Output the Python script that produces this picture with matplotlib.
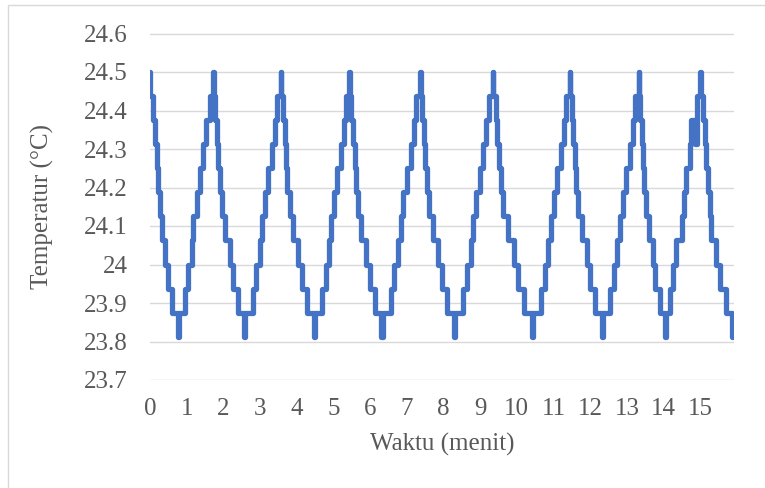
import matplotlib
matplotlib.use('Agg')
import matplotlib.pyplot as plt
from matplotlib.patches import Rectangle

# waktu (menit) tiap perubahan nilai
menit = [
    0.00, 0.01, 0.09, 0.14, 0.18, 0.23, 0.27, 0.32, 0.41, 0.50, 0.59, 0.77, 0.79,
    0.95, 1.04, 1.14, 1.18, 1.27, 1.36, 1.45, 1.54, 1.63, 1.72, 1.74,
    1.785, 1.825, 1.865, 1.895, 1.955, 2.045, 2.175, 2.265, 2.40, 2.57, 2.60,
    2.81, 2.90, 3.00, 3.06, 3.13, 3.23, 3.33, 3.40, 3.47, 3.56, 3.58,
    3.62, 3.67, 3.71, 3.74, 3.81, 3.91, 4.04, 4.14, 4.29, 4.47, 4.50,
    4.70, 4.79, 4.88, 4.94, 5.02, 5.11, 5.20, 5.28, 5.34, 5.43, 5.45,
    5.49, 5.54, 5.58, 5.61, 5.67, 5.76, 5.90, 5.99, 6.13, 6.31, 6.34,
    6.56, 6.66, 6.76, 6.83, 6.91, 7.01, 7.11, 7.19, 7.26, 7.36, 7.38,
    7.42, 7.47, 7.51, 7.54, 7.61, 7.71, 7.85, 7.95, 8.10, 8.28, 8.31,
    8.53, 8.64, 8.74, 8.80, 8.88, 8.99, 9.09, 9.17, 9.24, 9.34, 9.36,
    9.42, 9.47, 9.52, 9.56, 9.63, 9.75, 9.91, 10.03, 10.20, 10.42, 10.45,
    10.67, 10.76, 10.86, 10.92, 11.00, 11.10, 11.20, 11.28, 11.34, 11.44, 11.46,
    11.50, 11.54, 11.58, 11.61, 11.68, 11.77, 11.90, 12.00, 12.14, 12.31, 12.34,
    12.55, 12.65, 12.74, 12.81, 12.89, 12.98, 13.08, 13.16, 13.22, 13.32, 13.34,
    13.37, 13.41, 13.44, 13.46, 13.51, 13.59, 13.70, 13.77, 13.89, 14.03, 14.06,
    14.17, 14.26, 14.35, 14.49, 14.55, 14.62, 14.71, 14.76, 14.86, 14.92, 14.99, 15.01,
    15.08, 15.13, 15.17, 15.21, 15.26, 15.30, 15.44, 15.53, 15.71, 15.87, 15.89,
]

suhu = [
    24.5, 24.4375, 24.375, 24.3125, 24.25, 24.1875, 24.125, 24.0625, 24.0, 23.9375, 23.875, 23.8125, 23.875,
    23.9375, 24.0, 24.0625, 24.125, 24.1875, 24.25, 24.3125, 24.375, 24.4375, 24.5, 24.4375,
    24.375, 24.3125, 24.25, 24.1875, 24.125, 24.0625, 24.0, 23.9375, 23.875, 23.8125, 23.875,
    23.9375, 24.0, 24.0625, 24.125, 24.1875, 24.25, 24.3125, 24.375, 24.4375, 24.5, 24.4375,
    24.375, 24.3125, 24.25, 24.1875, 24.125, 24.0625, 24.0, 23.9375, 23.875, 23.8125, 23.875,
    23.9375, 24.0, 24.0625, 24.125, 24.1875, 24.25, 24.3125, 24.375, 24.4375, 24.5, 24.4375,
    24.375, 24.3125, 24.25, 24.1875, 24.125, 24.0625, 24.0, 23.9375, 23.875, 23.8125, 23.875,
    23.9375, 24.0, 24.0625, 24.125, 24.1875, 24.25, 24.3125, 24.375, 24.4375, 24.5, 24.4375,
    24.375, 24.3125, 24.25, 24.1875, 24.125, 24.0625, 24.0, 23.9375, 23.875, 23.8125, 23.875,
    23.9375, 24.0, 24.0625, 24.125, 24.1875, 24.25, 24.3125, 24.375, 24.4375, 24.5, 24.4375,
    24.375, 24.3125, 24.25, 24.1875, 24.125, 24.0625, 24.0, 23.9375, 23.875, 23.8125, 23.875,
    23.9375, 24.0, 24.0625, 24.125, 24.1875, 24.25, 24.3125, 24.375, 24.4375, 24.5, 24.4375,
    24.375, 24.3125, 24.25, 24.1875, 24.125, 24.0625, 24.0, 23.9375, 23.875, 23.8125, 23.875,
    23.9375, 24.0, 24.0625, 24.125, 24.1875, 24.25, 24.3125, 24.375, 24.4375, 24.5, 24.4375,
    24.375, 24.3125, 24.25, 24.1875, 24.125, 24.0625, 24.0, 23.9375, 23.875, 23.8125, 23.875,
    23.9375, 24.0, 24.0625, 24.125, 24.1875, 24.25, 24.3125, 24.375, 24.3125, 24.4375, 24.5, 24.4375,
    24.375, 24.3125, 24.25, 24.1875, 24.125, 24.0625, 24.0, 23.9375, 23.875, 23.8125, 23.8125,
]

y_ticks = [23.7, 23.8, 23.9, 24.0, 24.1, 24.2, 24.3, 24.4, 24.5, 24.6]
y_labels = ['23.7', '23.8', '23.9', '24', '24.1', '24.2', '24.3', '24.4', '24.5', '24.6']
x_ticks = list(range(16))

plt.rcParams['font.family'] = ['Liberation Serif', 'DejaVu Serif']

fig = plt.figure(figsize=(7.65, 4.88), dpi=100)
ax = fig.add_axes([150/765, 1-380/488, 584/765, 346.5/488])

# bingkai chart ala Excel
fig.patches.append(Rectangle((8/765, -0.1), 1.2, 1-5/488+0.1, transform=fig.transFigure,
                             fill=False, edgecolor='#D9D9D9', linewidth=1.0))

ax.plot(menit, suhu, drawstyle='steps-post', color='#4472C4', linewidth=3.8,
        solid_joinstyle='round', solid_capstyle='round', zorder=3)

ax.set_xlim(0, 15.92)
ax.set_ylim(23.7, 24.6)
ax.set_yticks(y_ticks)
ax.set_yticklabels(y_labels)
ax.set_xticks(x_ticks)
ax.grid(axis='y', color='#D9D9D9', linewidth=1.0)
ax.set_axisbelow(True)
for s in ax.spines.values():
    s.set_visible(False)
ax.tick_params(axis='both', length=0, labelsize=18, labelcolor='#595959')
ax.tick_params(axis='y', pad=16)
ax.tick_params(axis='x', pad=13)

ax.set_xlabel('Waktu (menit)', fontsize=18, color='#595959', labelpad=9)
ax.set_ylabel('Temperatur (°C)', fontsize=18, color='#595959')
ax.yaxis.set_label_coords(-(150-54)/584, 0.5)

fig.savefig('out.png', dpi=100)
